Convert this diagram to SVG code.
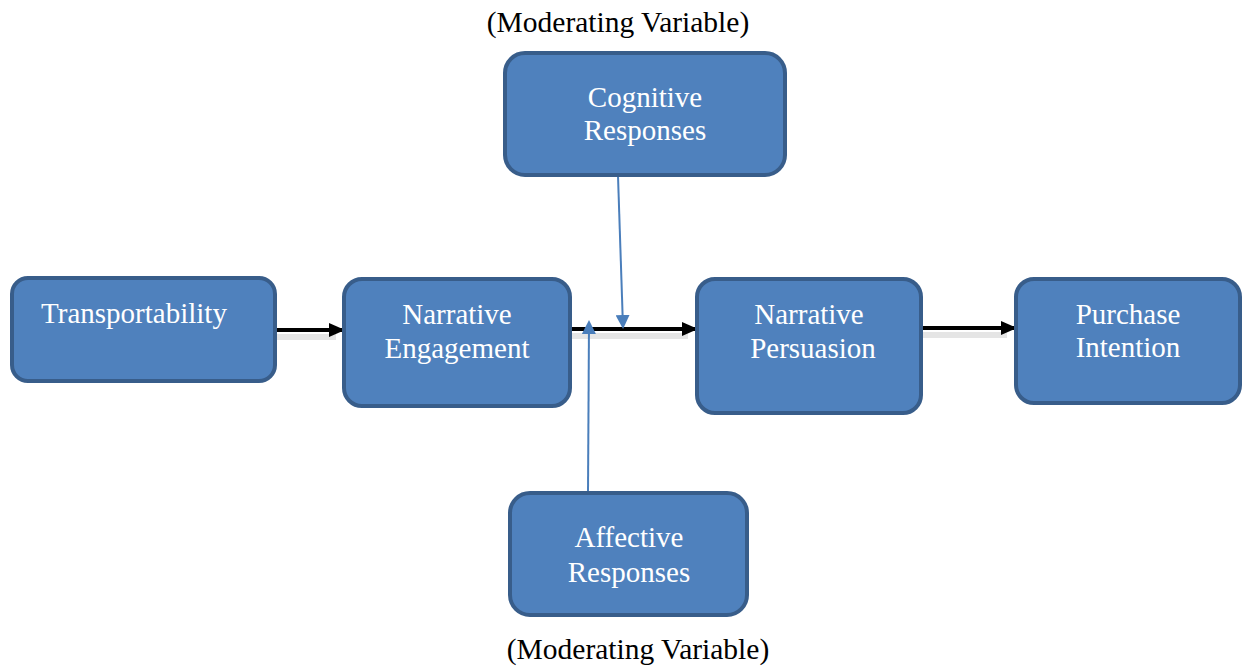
<svg xmlns="http://www.w3.org/2000/svg" width="1242" height="666" viewBox="0 0 1242 666">
  <defs>
    <style>
      .box { fill: #4F81BD; stroke: #385D8A; stroke-width: 4; }
      .lbl { font-family: "Liberation Serif", "Times New Roman", serif; font-size: 29px; fill: #ffffff; text-anchor: middle; }
      .note { font-family: "Liberation Serif", "Times New Roman", serif; font-size: 29.5px; fill: #000000; text-anchor: middle; }
      .flow { stroke: #000000; stroke-width: 4; fill: none; }
      .shadow { stroke: #000000; stroke-opacity: 0.1; stroke-width: 6; fill: none; }
      .mod { stroke: #4A7EBB; stroke-width: 2; fill: none; }
    </style>
    <marker id="blackHead" markerWidth="16" markerHeight="14" refX="14" refY="7" orient="auto" markerUnits="userSpaceOnUse" viewBox="0 0 16 14">
      <path d="M0,0 L16,7 L0,14 Z" fill="#000000"/>
    </marker>
    <marker id="blueHead" markerWidth="14" markerHeight="14" refX="12" refY="7" orient="auto" markerUnits="userSpaceOnUse" viewBox="0 0 14 14">
      <path d="M0,0 L14,7 L0,14 Z" fill="#4A7EBB"/>
    </marker>
  </defs>

  <g id="connectors">
    <!-- soft drop shadows under the main flow arrows -->
    <line class="shadow" x1="276" y1="337" x2="336" y2="337"/>
    <line class="shadow" x1="570" y1="336" x2="688" y2="336"/>
    <line class="shadow" x1="921" y1="335" x2="1007" y2="335"/>
    <!-- main flow -->
    <path class="flow" d="M276,330 L343,330" marker-end="url(#blackHead)"/>
    <path class="flow" d="M570,329 L696,329" marker-end="url(#blackHead)"/>
    <path class="flow" d="M921,328 L1015,328" marker-end="url(#blackHead)"/>
    <!-- moderators -->
    <path class="mod" d="M618,176 L623,327" marker-end="url(#blueHead)"/>
    <path class="mod" d="M588,492 L589,322" marker-end="url(#blueHead)"/>
  </g>

  <g id="transportability">
    <rect class="box" x="12" y="278" width="263" height="103" rx="16"/>
    <text class="lbl" x="134" y="323">Transportability</text>
  </g>

  <g id="narrative-engagement">
    <rect class="box" x="344" y="279" width="226" height="127" rx="18"/>
    <text class="lbl" x="457" y="324">Narrative</text>
    <text class="lbl" x="457" y="358">Engagement</text>
  </g>

  <g id="cognitive-responses">
    <rect class="box" x="505" y="53" width="280" height="122" rx="20"/>
    <text class="lbl" x="645" y="107">Cognitive</text>
    <text class="lbl" x="645" y="140">Responses</text>
  </g>

  <g id="narrative-persuasion">
    <rect class="box" x="697" y="279" width="224" height="134" rx="18"/>
    <text class="lbl" x="809" y="324">Narrative</text>
    <text class="lbl" x="813" y="358">Persuasion</text>
  </g>

  <g id="purchase-intention">
    <rect class="box" x="1016" y="279" width="224" height="124" rx="18"/>
    <text class="lbl" x="1128" y="324">Purchase</text>
    <text class="lbl" x="1128" y="357">Intention</text>
  </g>

  <g id="affective-responses">
    <rect class="box" x="510" y="493" width="237" height="122" rx="20"/>
    <text class="lbl" x="629" y="547">Affective</text>
    <text class="lbl" x="629" y="582">Responses</text>
  </g>

  <text class="note" x="618" y="32">(Moderating Variable)</text>
  <text class="note" x="638" y="659">(Moderating Variable)</text>
</svg>
